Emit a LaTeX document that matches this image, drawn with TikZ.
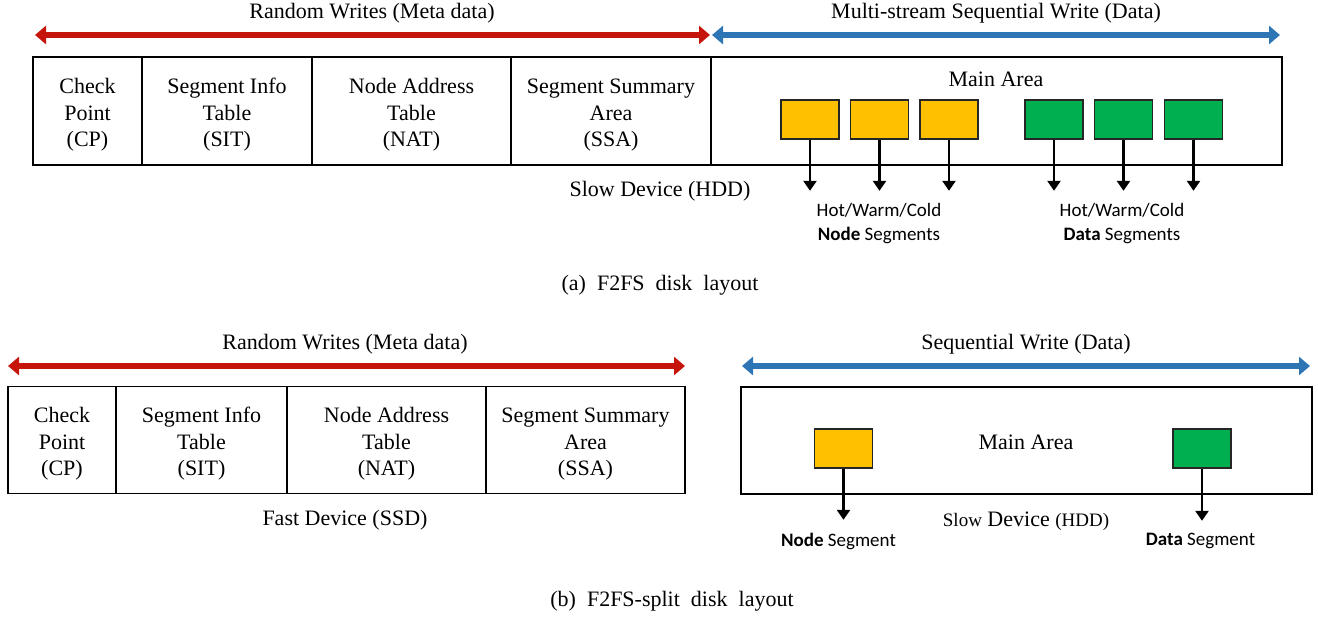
\documentclass[tikz,border=0pt]{standalone}
\usepackage{fontspec}
\setmainfont{Liberation Serif}
\newfontfamily\segfont{Carlito}
\usetikzlibrary{arrows.meta}
\usetikzlibrary{positioning}

\definecolor{metared}{RGB}{198,22,12}
\definecolor{datablue}{RGB}{46,117,182}
\definecolor{nodeyellow}{RGB}{255,192,0}
\definecolor{datagreen}{RGB}{0,176,80}

\newcommand{\topstrut}{\rule{0pt}{11.5pt}}

\begin{document}
\begin{tikzpicture}[x=0.5pt, y=-0.5pt, line join=miter,
	cell/.style={draw, line width=0.9pt, outer sep=0pt, minimum height=54pt, inner sep=0pt, align=center, font=\fontsize{11}{13.25}\selectfont},
	seg/.style={draw=black!85, line width=0.8pt, minimum width=29pt, minimum height=19.5pt, inner sep=0pt},
	wide/.style={line width=2.8pt, {Triangle[length=5.5pt,width=9pt]}-{Triangle[length=5.5pt,width=9pt]}},
	segarrow/.style={line width=1.4pt, -{Triangle[length=5pt,width=6.5pt]}},
	lbl/.style={font=\fontsize{11}{13.25}\selectfont, inner sep=0pt},
	sans/.style={font=\segfont\fontsize{9.5}{12}\selectfont, align=center, inner sep=0pt}]
			\useasboundingbox (0,0) rectangle (1318,618);
			% (a) layout
			\node[cell, minimum width=54.5pt] (cpa) at (87.5,111) {\topstrut Check\\Point\\(CP)};
			\node[cell, minimum width=85pt, right=0pt of cpa] (sita) {\topstrut Segment Info\\Table\\(SIT)};
			\node[cell, minimum width=99.5pt, right=0pt of sita] (nata) {\topstrut Node Address\\Table\\(NAT)};
			\node[cell, minimum width=100pt, right=0pt of nata] (ssaa) {\topstrut Segment Summary\\Area\\(SSA)};
			\node[cell, minimum width=285.5pt, right=0pt of ssaa] (maina) {};
			\node[lbl] (areaa) at (996,79) {Main Area};
			% segments
			\node[seg, fill=nodeyellow] (ny1) at (810,119.5) {};
			\node[seg, fill=nodeyellow] (ny2) at (879.5,119.5) {};
			\node[seg, fill=nodeyellow] (ny3) at (949,119.5) {};
			\node[seg, fill=datagreen] (dg1) at (1054,119.5) {};
			\node[seg, fill=datagreen] (dg2) at (1123.5,119.5) {};
			\node[seg, fill=datagreen] (dg3) at (1193.5,119.5) {};
			\foreach \s in {ny1,ny2,ny3,dg1,dg2,dg3}
				\draw[segarrow] (\s.south) -- ++(0,51);
			% writes
			\coordinate (ra1) at (35,35);
			\coordinate (ra2) at (710,35);
			\coordinate (ba1) at (712,35);
			\coordinate (ba2) at (1280,35);
			\draw[wide, metared] (ra1) -- (ra2);
			\draw[wide, datablue] (ba1) -- (ba2);
			\node[lbl] (rwa) at (372,13) {Random Writes (Meta data)};
			\node[lbl] (mswa) at (996,13) {Multi-stream Sequential Write (Data)};
			% labels
			\node[lbl] (slowa) at (660,191) {Slow Device (HDD)};
			\node[sans] (hotn) at (879,224) {Hot/Warm/Cold\\\textbf{Node} Segments};
			\node[sans] (hotd) at (1122,224) {Hot/Warm/Cold\\\textbf{Data} Segments};
			\node[lbl] (capa) at (660,285) {\spaceskip=0.5em\relax (a) F2FS disk layout};
			% (b) layout
			\node[cell, minimum width=54pt, minimum height=53.5pt] (cpb) at (62,440) {\topstrut Check\\Point\\(CP)};
			\node[cell, minimum width=85.5pt, minimum height=53.5pt, right=0pt of cpb] (sitb) {\topstrut Segment Info\\Table\\(SIT)};
			\node[cell, minimum width=99.5pt, minimum height=53.5pt, right=0pt of sitb] (natb) {\topstrut Node Address\\Table\\(NAT)};
			\node[cell, minimum width=99.5pt, minimum height=53.5pt, right=0pt of natb] (ssab) {\topstrut Segment Summary\\Area\\(SSA)};
			\node[cell, minimum width=285.5pt, minimum height=53.5pt] (mainb) at (1026.5,440.5) {};
			\node[lbl] (areab) at (1026,442) {Main Area};
			\node[seg, fill=nodeyellow] (nyb) at (843.5,448.5) {};
			\node[seg, fill=datagreen] (dgb) at (1202,448.5) {};
			\draw[segarrow] (nyb.south) -- ++(0,51);
			\draw[segarrow] (dgb.south) -- ++(0,52);
			\coordinate (rb1) at (8,366);
			\coordinate (rb2) at (685,366);
			\coordinate (bb1) at (742,366);
			\coordinate (bb2) at (1310,366);
			\draw[wide, metared] (rb1) -- (rb2);
			\draw[wide, datablue] (bb1) -- (bb2);
			\node[lbl] (rwb) at (345,344) {Random Writes (Meta data)};
			\node[lbl] (seqb) at (1026,344) {Sequential Write (Data)};
			\node[lbl] (fastb) at (345,520) {Fast Device (SSD)};
			\node[lbl] (slowb) at (1026,521) {{\fontsize{9.5}{11}\selectfont Slow} Device {\fontsize{9.5}{11}\selectfont (HDD)}};
			\node[sans] (nodeseg) at (838.5,541) {\textbf{Node} Segment};
			\node[sans] (dataseg) at (1200.5,541) {\textbf{Data} Segment};
			\node[lbl] (capb) at (672,601) {\spaceskip=0.5em\relax (b) F2FS-split disk layout};
		\end{tikzpicture}
\end{document}
